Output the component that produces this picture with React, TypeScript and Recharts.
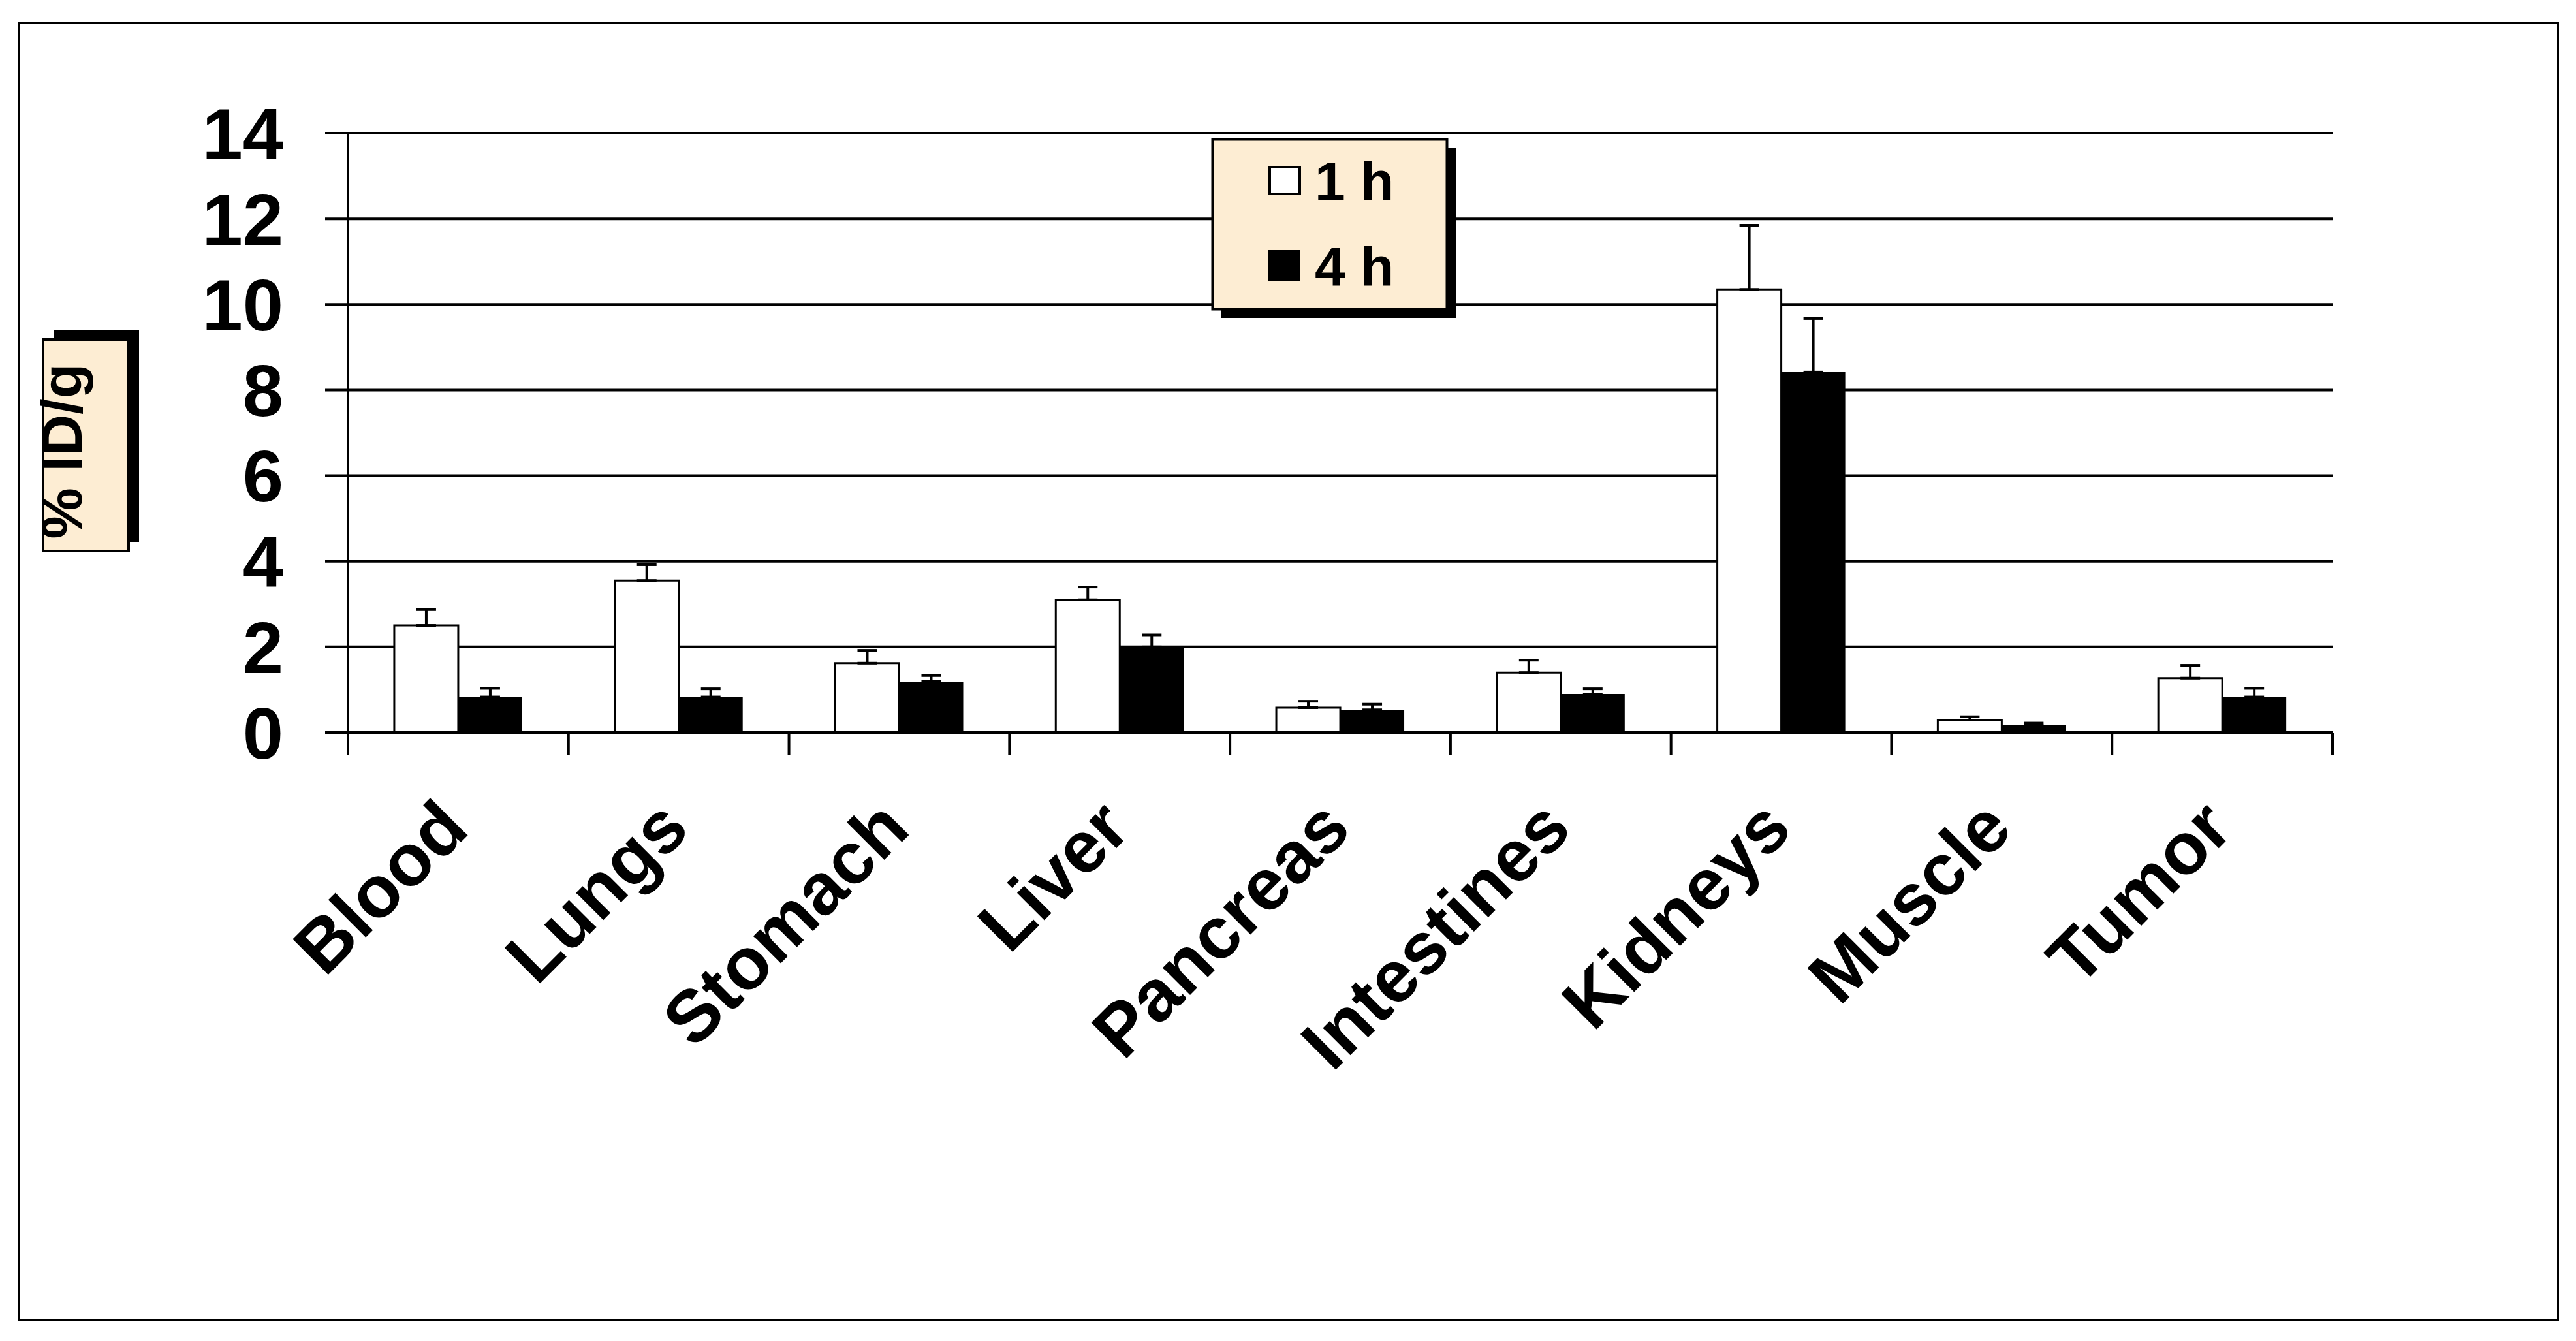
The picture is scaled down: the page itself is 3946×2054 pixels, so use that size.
import React from 'react';
import { BarChart, Bar, XAxis, YAxis, CartesianGrid, Legend, ErrorBar } from 'recharts';

const organs = ['Blood', 'Lungs', 'Stomach', 'Liver', 'Pancreas', 'Intestines', 'Kidneys', 'Muscle', 'Tumor'];
const oneHour = [2.5, 3.55, 1.62, 3.1, 0.58, 1.4, 10.35, 0.29, 1.27];
const oneHourErr = [0.37, 0.37, 0.3, 0.3, 0.15, 0.29, 1.5, 0.08, 0.3];
const fourHour = [0.83, 0.83, 1.19, 2.0, 0.53, 0.9, 8.42, 0.17, 0.83];
const fourHourErr = [0.2, 0.19, 0.14, 0.28, 0.13, 0.12, 1.25, 0.05, 0.2];
const yTicks = [0, 2, 4, 6, 8, 10, 12, 14];

const data = organs.map((organ, i) => ({
  organ,
  h1: oneHour[i],
  h1Err: [0, oneHourErr[i]],
  h4: fourHour[i],
  h4Err: [0, fourHourErr[i]],
}));

const FONT = '"Liberation Sans", Arial, sans-serif';
const CREAM = '#FDEDD3';

function CategoryTick(props: any) {
  const { x, y, payload, index, width, visibleTicksCount } = props;
  const band = width / visibleTicksCount;
  const left = x - band / 2;
  const right = x + band / 2;
  return (
    <g>
      <line x1={left} y1={y} x2={left} y2={y + 35} stroke="#000" strokeWidth={4} />
      {index === visibleTicksCount - 1 && (
        <line x1={right} y1={y} x2={right} y2={y + 35} stroke="#000" strokeWidth={4} />
      )}
      <text
        x={x + 20}
        y={y + 152}
        transform={`rotate(-45, ${x + 20}, ${y + 152})`}
        textAnchor="end"
        fontFamily={FONT}
        fontWeight="bold"
        fontSize={112}
        fill="#000"
      >
        {payload.value}
      </text>
    </g>
  );
}

function YLabel(props: any) {
  const { viewBox } = props;
  const bx = viewBox.x - 267;
  const by = viewBox.y + 316;
  const w = 131;
  const h = 324;
  return (
    <g>
      <rect x={bx + 16} y={by - 14} width={w} height={h} fill="#000" />
      <rect x={bx} y={by} width={w} height={h} fill={CREAM} stroke="#000" strokeWidth={4} />
      <text
        x={bx + 59}
        y={by + 171}
        transform={`rotate(-90, ${bx + 59}, ${by + 171})`}
        textAnchor="middle"
        fontFamily={FONT}
        fontWeight="bold"
        fontSize={88}
        fill="#000"
      >
        % ID/g
      </text>
    </g>
  );
}

function LegendBox() {
  return (
    <svg width={380} height={280} style={{ display: 'block', overflow: 'visible' }}>
      <rect x={15} y={15} width={359} height={260} fill="#000" />
      <rect x={1.5} y={1.5} width={359} height={260} fill={CREAM} stroke="#000" strokeWidth={4} />
      <rect x={89} y={44} width={46} height={41} fill="#fff" stroke="#000" strokeWidth={4} />
      <text x={158} y={95} fontFamily={FONT} fontWeight="bold" fontSize={84} fill="#000">
        1 h
      </text>
      <rect x={87} y={171} width={48} height={48} fill="#000" />
      <text x={158} y={226} fontFamily={FONT} fontWeight="bold" fontSize={84} fill="#000">
        4 h
      </text>
    </svg>
  );
}

export default function App() {
  return (
    <div style={{ position: 'absolute', left: 0, top: 0, width: 3946, height: 2054, background: '#fff' }}>
      <div
        style={{
          position: 'absolute',
          left: 28,
          top: 34,
          width: 3892,
          height: 1990,
          border: '3px solid #000',
          boxSizing: 'border-box',
        }}
      />
      <div style={{ position: 'absolute', left: 0, top: 0 }}>
        <BarChart
          width={3946}
          height={2054}
          data={data}
          margin={{ top: 204, right: 373, left: 333, bottom: 332 }}
          barCategoryGap="21%"
          barGap={0}
        >
          <CartesianGrid vertical={false} stroke="#000" strokeWidth={4} />
          <XAxis
            dataKey="organ"
            height={600}
            interval={0}
            tickLine={false}
            tickSize={0}
            tickMargin={0}
            axisLine={{ stroke: '#000', strokeWidth: 4 }}
            tick={<CategoryTick />}
          />
          <YAxis
            width={200}
            domain={[0, 14]}
            ticks={yTicks}
            interval={0}
            tickSize={35}
            tickMargin={64}
            tickLine={{ stroke: '#000', strokeWidth: 4 }}
            axisLine={{ stroke: '#000', strokeWidth: 4 }}
            tick={{ fill: '#000', fontSize: 112, fontWeight: 'bold', fontFamily: FONT }}
            label={YLabel}
          />
          <Legend
            layout="vertical"
            align="center"
            verticalAlign="middle"
            content={<LegendBox />}
            wrapperStyle={{ left: 1856, top: 212, width: 380, height: 280, bottom: 'auto', right: 'auto' }}
          />
          <Bar dataKey="h1" name="1 h" fill="#fff" stroke="#000" strokeWidth={3} isAnimationActive={false}>
            <ErrorBar dataKey="h1Err" direction="y" width={15} stroke="#000" strokeWidth={4} isAnimationActive={false} />
          </Bar>
          <Bar dataKey="h4" name="4 h" fill="#000" isAnimationActive={false}>
            <ErrorBar dataKey="h4Err" direction="y" width={15} stroke="#000" strokeWidth={4} isAnimationActive={false} />
          </Bar>
        </BarChart>
      </div>
    </div>
  );
}
